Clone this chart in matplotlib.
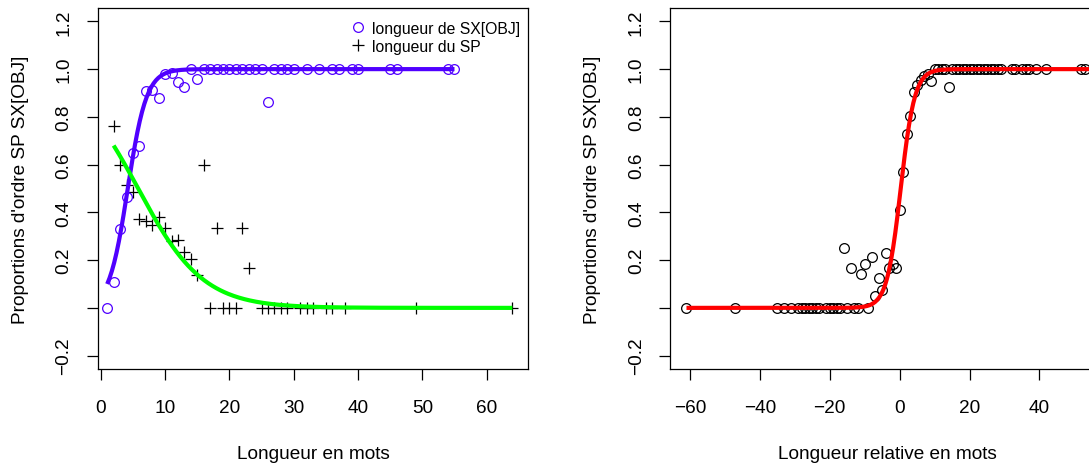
import numpy as np
import matplotlib
matplotlib.use("Agg")
import matplotlib.pyplot as plt
from matplotlib.lines import Line2D

plt.rcParams['font.family'] = ['Liberation Sans', 'DejaVu Sans']

# ---------------- data: left panel ----------------
sx_len = [1, 2, 3, 4, 5, 6, 7, 8, 9, 10, 11, 12, 13, 14, 15, 16, 17, 18, 19, 20,
          21, 22, 23, 24, 25, 26, 27, 28, 29, 30, 32, 34, 36, 37, 39, 40, 45, 46, 54, 55]
sx_prop = [0.0, 0.11, 0.33, 0.465, 0.65, 0.68, 0.91, 0.913, 0.877, 0.98, 0.984, 0.946,
           0.924, 1.0, 0.958, 1.0, 1.0, 1.0, 1.0, 1.0,
           1.0, 1.0, 1.0, 1.0, 1.0, 0.862, 1.0, 1.0, 1.0, 1.0, 1.0, 1.0, 1.0, 1.0, 1.0,
           1.0, 1.0, 1.0, 1.0, 1.0]

sp_len = [2, 3, 4, 5, 6, 7, 8, 9, 10, 11, 12, 13, 14, 15, 16, 17, 18, 19, 20, 21,
          22, 23, 25, 26, 27, 28, 29, 31, 32, 33, 35, 36, 38, 49, 64]
sp_prop = [0.763, 0.60, 0.516, 0.486, 0.371, 0.363, 0.346, 0.381, 0.335, 0.279, 0.283,
           0.235, 0.204, 0.139, 0.60, 0.0, 0.335, 0.0, 0.0, 0.0,
           0.335, 0.169, 0.0, 0.0, 0.0, 0.0, 0.0, 0.0, 0.0, 0.0, 0.0, 0.0, 0.0, 0.0, 0.0]

# logistic fits (intercept, slope)
sx_fit = (-2.884, 0.687)
sp_fit = (1.15, -0.198)

# ---------------- data: right panel ----------------
rel_len = [-61, -47, -35, -33, -31, -29, -28, -27, -26, -25, -24, -23, -21, -20, -19,
           -18, -17, -15, -13, -12, -9,
           -16, -14, -11, -10, -8, -7, -6, -5, -4, -3, -2, -1,
           0, 1, 2, 3, 4, 5, 6, 7, 8, 9, 10, 11, 12, 13, 14,
           15, 16, 17, 18, 19, 20, 21, 22, 23, 24, 25, 26, 27, 28, 29,
           32, 33, 35, 36, 37, 39, 42, 52, 53]
rel_prop = [0.0] * 21 + [
    0.251, 0.167, 0.143, 0.182, 0.213, 0.048, 0.126, 0.074, 0.231, 0.167, 0.182, 0.167,
    0.409, 0.569, 0.730, 0.804, 0.905, 0.932, 0.953, 0.972, 0.980, 0.949, 1.0, 1.0, 1.0, 1.0, 0.925,
] + [1.0] * 15 + [1.0] * 9
rel_fit = (-0.15, 0.50)

y_ticks = [-0.2, 0.0, 0.2, 0.4, 0.6, 0.8, 1.0, 1.2]
y_ticklabels = ['\u22120.2', '', '0.2', '0.4', '0.6', '0.8', '1.0', '1.2']
left_xticks = [0, 10, 20, 30, 40, 50, 60]
right_xticks = [-60, -40, -20, 0, 20, 40]
right_xticklabels = ['\u221260', '\u221240', '\u221220', '0', '20', '40']

ylabel = "Proportions d'ordre SP SX[OBJ]"

purple = '#5000ff'
green = '#00ff00'
red = '#ff0000'

W, H = 1089, 464
fig = plt.figure(figsize=(W / 100, H / 100), dpi=100)

top_px, bot_px = 9, 370
ax1 = fig.add_axes([97.7 / W, (H - bot_px) / H, (528.3 - 97.7) / W, (bot_px - top_px) / H])
ax2 = fig.add_axes([670.4 / W, (H - bot_px) / H, 434.1 / W, (bot_px - top_px) / H])

FS = 13.7

def logistic(x, fit):
    a, b = fit
    return 1.0 / (1.0 + np.exp(-(a + b * x)))

def style(ax):
    for s in ax.spines.values():
        s.set_linewidth(0.9)
        s.set_color('black')
    ax.tick_params(direction='out', length=7.9, width=0.9, labelsize=FS, colors='black')
    ax.tick_params(axis='x', pad=13.5)
    ax.tick_params(axis='y', pad=10.5)
    ax.set_ylim(-0.256, 1.256)
    ax.set_yticks(y_ticks)
    ax.set_yticklabels(y_ticklabels, rotation=90, va='center')
    ax.set_ylabel(ylabel, fontsize=FS, labelpad=19)

# left panel
ax1.set_xlim(-0.48, 66.48)
xs = np.linspace(min(sx_len), max(sx_len), 300)
xg = np.linspace(min(sp_len), max(sp_len), 300)
ax1.plot(sp_len, sp_prop, linestyle='none', marker='+', color='black', markersize=9,
         markeredgewidth=0.9, zorder=3)
ax1.plot(sx_len, sx_prop, linestyle='none', marker='o', markerfacecolor='none',
         markeredgecolor=purple, markersize=7, markeredgewidth=0.9, zorder=3)
ax1.plot(xs, logistic(xs, sx_fit), color=purple, linewidth=3, solid_capstyle='butt', zorder=4)
ax1.plot(xg, logistic(xg, sp_fit), color=green, linewidth=3, solid_capstyle='butt', zorder=4)
ax1.set_xticks(left_xticks)
ax1.set_xlabel('Longueur en mots', fontsize=FS, labelpad=21)
style(ax1)

handles = [Line2D([], [], linestyle='none', marker='o', markerfacecolor='none',
                  markeredgecolor=purple, markersize=7, markeredgewidth=0.9),
           Line2D([], [], linestyle='none', marker='+', color='black', markersize=9,
                  markeredgewidth=0.9)]
ax1.legend(handles, ['longueur de SX[OBJ]', 'longueur du SP'], loc='upper right',
           bbox_to_anchor=(1.0, 0.986),
           frameon=False, fontsize=11.3, handlelength=1.0, handletextpad=0.4,
           labelspacing=0.17, borderaxespad=0.3, borderpad=0.2)

# right panel
ax2.set_xlim(-65.6, 58.6)
xr = np.linspace(min(rel_len), 60, 400)
ax2.plot(rel_len, rel_prop, linestyle='none', marker='o', markerfacecolor='none',
         markeredgecolor='black', markersize=7, markeredgewidth=0.9, zorder=3)
ax2.plot(xr, logistic(xr, rel_fit), color=red, linewidth=3, solid_capstyle='butt', zorder=4)
ax2.set_xticks(right_xticks)
ax2.set_xticklabels(right_xticklabels)
ax2.set_xlabel('Longueur relative en mots', fontsize=FS, labelpad=21)
style(ax2)

fig.savefig('out.png', dpi=100)
